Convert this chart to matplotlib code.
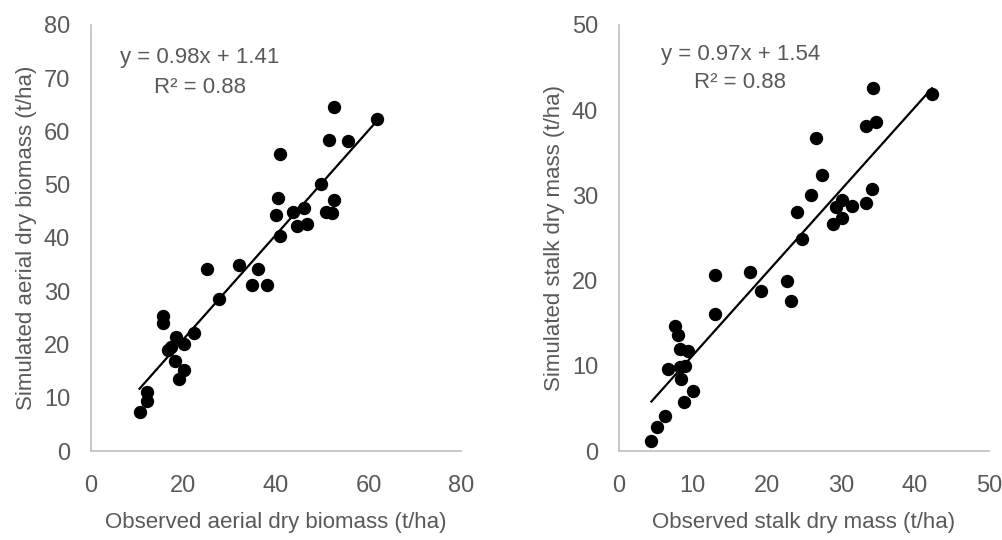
import matplotlib.pyplot as plt
import numpy as np

plt.rcParams['font.family'] = ['Liberation Sans Narrow', 'Liberation Sans', 'DejaVu Sans']

# Oberirdische Trockenbiomasse (t/ha)
aerial_obs = [10.5, 12.2, 12.2, 19.1, 20.2, 18.2, 16.7, 17.4, 18.4, 20.2, 22.3, 15.6,
              15.6, 27.7, 25.0, 31.9, 36.1, 34.7, 38.1, 40.8, 39.9, 40.5, 40.8, 43.6,
              46.1, 44.6, 46.7, 49.7, 50.7, 52.0, 52.6, 51.5, 55.6, 52.6, 61.9]
aerial_sim = [7.3, 9.3, 11.1, 13.5, 15.3, 16.9, 19.0, 19.6, 21.5, 20.0, 22.2, 25.4,
              24.0, 28.5, 34.2, 34.9, 34.2, 31.2, 31.2, 40.3, 44.4, 47.6, 55.8, 44.8,
              45.6, 42.3, 42.6, 50.1, 44.9, 44.6, 47.1, 58.4, 58.2, 64.5, 62.3]
aerial_fit = (0.98, 1.41)

# Halm-Trockenmasse (t/ha)
stalk_obs = [4.4, 5.1, 6.2, 8.75, 10.0, 6.7, 8.4, 8.9, 8.2, 9.4, 8.2, 8.0, 7.6,
             13.0, 13.0, 17.7, 19.2, 22.7, 23.3, 24.8, 24.0, 25.9, 27.4, 26.6,
             28.9, 30.1, 29.3, 30.2, 31.5, 33.4, 34.2, 33.4, 34.7, 34.3, 42.3]
stalk_sim = [1.2, 2.8, 4.1, 5.8, 7.1, 9.6, 8.4, 10.0, 9.9, 11.7, 12.0, 13.6, 14.7,
             16.1, 20.6, 21.0, 18.8, 19.9, 17.6, 24.9, 28.1, 30.0, 32.4, 36.7,
             26.6, 27.4, 28.6, 29.4, 28.7, 29.1, 30.8, 38.1, 38.6, 42.6, 41.9]
stalk_fit = (0.97, 1.54)

grey = '#595959'
fig = plt.figure(figsize=(10.03, 5.40), dpi=100)

panels = [
    (0.0907, aerial_obs, aerial_sim, aerial_fit, 80, 20, 10,
     'Observed aerial dry biomass (t/ha)', 'Simulated aerial dry biomass (t/ha)', (23.6, 73.8, 68.2)),
    (0.617, stalk_obs, stalk_sim, stalk_fit, 50, 10, 10,
     'Observed stalk dry mass (t/ha)', 'Simulated stalk dry mass (t/ha)', (16.4, 46.5, 43.2)),
]

for left, xo, ys, fit, lim, xstep, ystep, xl, yl, txt in panels:
    ax = fig.add_axes([left, 0.1648, 0.369, 0.789])
    ax.scatter(xo, ys, s=74, color='black', zorder=3)
    xx = np.array([min(xo), max(xo)])
    ax.plot(xx, fit[0] * xx + fit[1], color='black', lw=1.6, zorder=2)
    ax.set_xlim(0, lim)
    ax.set_ylim(0, lim)
    ax.set_xticks(np.arange(0, lim + 1, xstep))
    ax.set_yticks(np.arange(0, lim + 1, ystep))
    for s in ['top', 'right']:
        ax.spines[s].set_visible(False)
    for s in ['left', 'bottom']:
        ax.spines[s].set_color('#BFBFBF')
        ax.spines[s].set_linewidth(1.2)
    ax.tick_params(axis='both', length=0, labelsize=17, labelcolor=grey)
    ax.tick_params(axis='x', pad=17)
    ax.tick_params(axis='y', pad=15)
    ax.set_xlabel(xl, fontsize=16, color=grey, labelpad=11)
    ax.set_ylabel(yl, fontsize=16, color=grey, labelpad=5)
    ax.text(txt[0], txt[1], 'y = %.2fx + %.2f' % fit, ha='center', va='center',
            fontsize=16, color=grey)
    ax.text(txt[0], txt[2], 'R² = 0.88', ha='center', va='center', fontsize=16, color=grey)

fig.savefig('out.png', dpi=100)
